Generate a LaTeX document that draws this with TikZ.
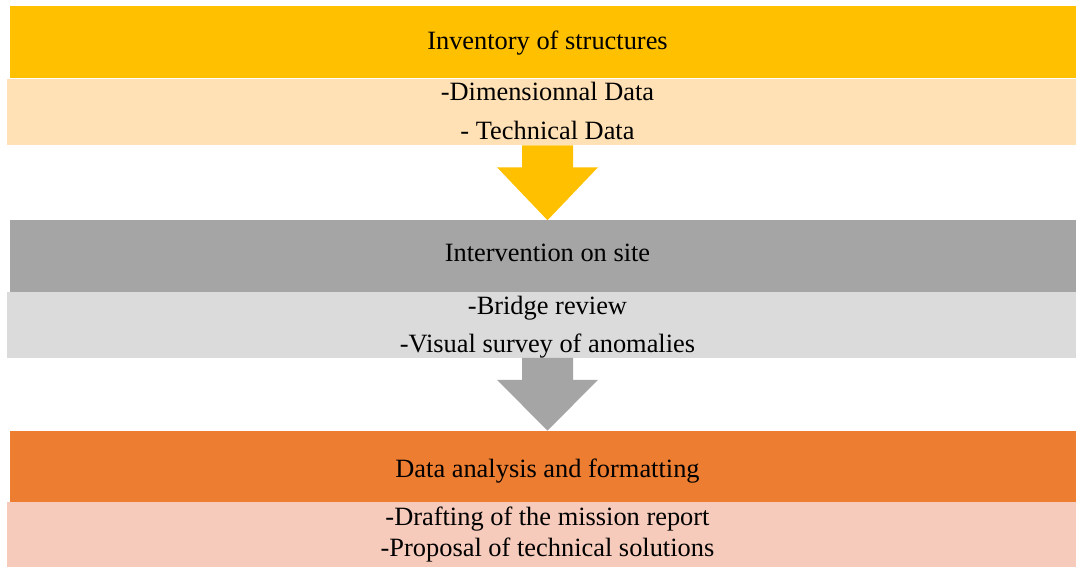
\documentclass[tikz,border=0pt]{standalone}
\usepackage{fontspec}
\setmainfont{Liberation Serif}
\usetikzlibrary{calc}
\definecolor{goldA}{HTML}{FFC000}
\definecolor{goldB}{HTML}{FFE1B5}
\definecolor{grayA}{HTML}{A5A5A5}
\definecolor{grayB}{HTML}{DBDBDB}
\definecolor{orangeA}{HTML}{ED7D31}
\definecolor{orangeB}{HTML}{F6CBBB}
\def\px{0.75pt}
\begin{document}
\begin{tikzpicture}[x=0.75pt,y=-0.75pt,
  header/.style={rectangle,inner sep=0pt,draw=none,minimum width=1066*\px,minimum height=72*\px},
  band/.style={rectangle,inner sep=0pt,draw=none,minimum width=1069*\px,minimum height=66*\px},
  label/.style={anchor=base,inner sep=0pt,font=\fontsize{19.8}{24}\selectfont}]
\useasboundingbox (0,0) rectangle (1076,567);
\clip (0,0) rectangle (1076,567);

% step 1: inventory
\node[header,fill=goldA] (h1) at (543,42) {};
\node[band,fill=goldB] (b1) at (541.5,112) {};
\node[label] (t1) at (547.5,50) {Inventory of structures};
\node[label] (t1a) at (547.5,101) {-Dimensionnal Data};
\node[label] (t1b) at (547.5,140) {- Technical Data};

% step 2: site work
\node[header,fill=grayA] (h2) at (543,255.5) {};
\node[band,fill=grayB] (b2) at (541.5,324.5) {};
\node[label] (t2) at (547.5,262) {Intervention on site};
\node[label] (t2a) at (547.5,314) {-Bridge review};
\node[label] (t2b) at (547.5,352) {-Visual survey of anomalies};

% step 3: analysis
\node[header,fill=orangeA] (h3) at (543,467) {};
\node[band,fill=orangeB] (b3) at (541.5,535) {};
\node[label] (t3) at (547.5,477) {Data analysis and formatting};
\node[label] (t3a) at (547.5,525) {-Drafting of the mission report};
\node[label] (t3b) at (547.5,556) {-Proposal of technical solutions};

% block arrows between the steps
\fill[goldA] ($(t1|-b1.south)+(-25.5,0)$) -- ($(t1|-b1.south)+(25.5,0)$)
  -- ($(t1|-b1.south)+(25.5,22)$) -- ($(t1|-b1.south)+(50.5,22)$)
  -- ($(t1|-h2.north)+(0,1)$) -- ($(t1|-b1.south)+(-50.5,22)$)
  -- ($(t1|-b1.south)+(-25.5,22)$) -- cycle;
\fill[grayA] ($(t2|-b2.south)+(-25.5,0)$) -- ($(t2|-b2.south)+(25.5,0)$)
  -- ($(t2|-b2.south)+(25.5,22)$) -- ($(t2|-b2.south)+(50.5,22)$)
  -- ($(t2|-h3.north)+(0,0)$) -- ($(t2|-b2.south)+(-50.5,22)$)
  -- ($(t2|-b2.south)+(-25.5,22)$) -- cycle;
\end{tikzpicture}
\end{document}
